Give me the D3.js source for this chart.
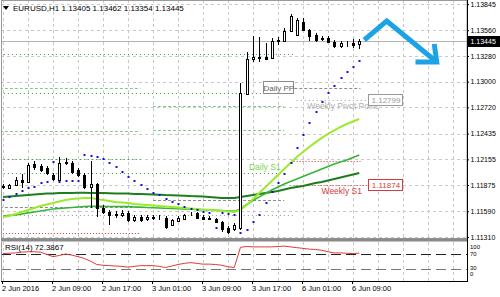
<!DOCTYPE html>
<html>
<head>
<meta charset="utf-8">
<script src="https://cdnjs.cloudflare.com/ajax/libs/d3/7.8.5/d3.min.js"></script>
<style>
  body { margin: 0; background: #fff; }
  svg { display: block; font-family: "Liberation Sans", Arial, sans-serif; }
</style>
</head>
<body>
<svg id="chart" width="500" height="297"></svg>
<script>
// EURUSD H1, 2-6 Jun 2016. One entry per hourly bar, bar 0 = 2 Jun 01:00.
var opens  = [1.11854,1.11844,1.11876,1.11931,1.11909,1.12105,1.12083,1.12061,1.11985,1.11931,
              1.12116,1.12116,1.12039,1.11985,1.11854,1.11887,1.11626,1.11582,1.11561,1.11550,
              1.11572,1.11495,1.11528,1.11506,1.11528,1.11517,1.11517,1.11441,1.11485,1.11506,
              1.11555,1.11572,1.11528,1.11512,1.11506,1.11474,1.11408,1.11398,1.11408,1.12866,
              1.13247,1.13269,1.13269,1.13258,1.13443,1.13443,1.13552,1.13508,1.13650,1.13563,
              1.13508,1.13470,1.13476,1.13432,1.13388,1.13415,1.13421,1.13405];
var highs  = [1.11887,1.11887,1.11963,1.11996,1.12116,1.12137,1.12105,1.12083,1.12007,1.12181,
              1.12170,1.12137,1.12061,1.12007,1.12137,1.11898,1.11659,1.11604,1.11593,1.11604,
              1.11593,1.11550,1.11550,1.11550,1.11550,1.11545,1.11539,1.11506,1.11539,1.11561,
              1.11582,1.11582,1.11550,1.11539,1.11517,1.11485,1.11430,1.11463,1.12986,1.13323,
              1.13497,1.13486,1.13421,1.13476,1.13486,1.13584,1.13737,1.13693,1.13693,1.13573,
              1.13530,1.13497,1.13497,1.13454,1.13443,1.13443,1.13465,1.13462];
var lows   = [1.11833,1.11833,1.11865,1.11844,1.11898,1.12039,1.12018,1.11985,1.11920,1.11920,
              1.12094,1.11996,1.11963,1.11833,1.11626,1.11528,1.11561,1.11441,1.11517,1.11528,
              1.11474,1.11474,1.11474,1.11485,1.11495,1.11490,1.11398,1.11430,1.11474,1.11495,
              1.11539,1.11506,1.11495,1.11490,1.11463,1.11365,1.11343,1.11376,1.11387,1.12855,
              1.13214,1.13214,1.13236,1.13247,1.13399,1.13432,1.13541,1.13497,1.13552,1.13443,
              1.13432,1.13443,1.13421,1.13367,1.13367,1.13378,1.13367,1.13354];
var closes = [1.11860,1.11876,1.11931,1.11909,1.12094,1.12072,1.12039,1.12007,1.11941,1.12116,
              1.12126,1.12018,1.11985,1.11854,1.11887,1.11626,1.11582,1.11550,1.11550,1.11572,
              1.11495,1.11528,1.11495,1.11528,1.11517,1.11521,1.11419,1.11495,1.11517,1.11550,
              1.11561,1.11517,1.11506,1.11506,1.11474,1.11398,1.11365,1.11441,1.12877,1.13247,
              1.13269,1.13258,1.13247,1.13443,1.13454,1.13552,1.13715,1.13671,1.13563,1.13497,
              1.13454,1.13476,1.13432,1.13388,1.13421,1.13410,1.13399,1.13445];

// three moving averages (fast light green, middle green, slow dark green)
var maFast = [1.11528,1.11539,1.11561,1.11582,1.11604,1.11626,1.11648,1.11664,1.11680,1.11697,
              1.11713,1.11724,1.11729,1.11735,1.11735,1.11724,1.11713,1.11702,1.11691,1.11686,
              1.11680,1.11669,1.11664,1.11658,1.11653,1.11648,1.11642,1.11637,1.11631,1.11626,
              1.11620,1.11615,1.11610,1.11604,1.11599,1.11593,1.11588,1.11582,1.11604,1.11658,
              1.11724,1.11789,1.11854,1.11920,1.11985,1.12050,1.12116,1.12181,1.12235,1.12290,
              1.12339,1.12388,1.12431,1.12469,1.12507,1.12540,1.12567,1.12594];
var maMid  = [1.11539,1.11545,1.11550,1.11561,1.11572,1.11582,1.11593,1.11604,1.11615,1.11620,
              1.11626,1.11631,1.11637,1.11642,1.11644,1.11645,1.11644,1.11642,1.11641,1.11640,
              1.11642,1.11637,1.11635,1.11631,1.11629,1.11626,1.11622,1.11620,1.11617,1.11615,
              1.11613,1.11610,1.11607,1.11604,1.11601,1.11599,1.11593,1.11591,1.11615,1.11664,
              1.11707,1.11746,1.11784,1.11822,1.11854,1.11887,1.11914,1.11941,1.11969,1.11996,
              1.12023,1.12050,1.12077,1.12105,1.12126,1.12148,1.12175,1.12203];
var maSlow = [1.11746,1.11751,1.11756,1.11762,1.11767,1.11773,1.11778,1.11784,1.11784,1.11789,
              1.11789,1.11790,1.11791,1.11791,1.11790,1.11789,1.11788,1.11786,1.11784,1.11783,
              1.11782,1.11778,1.11777,1.11776,1.11773,1.11771,1.11767,1.11765,1.11762,1.11760,
              1.11756,1.11754,1.11751,1.11746,1.11740,1.11735,1.11734,1.11735,1.11746,1.11756,
              1.11767,1.11778,1.11789,1.11800,1.11811,1.11827,1.11844,1.11854,1.11865,1.11882,
              1.11898,1.11909,1.11925,1.11941,1.11958,1.11974,1.11991,1.12007];

// parabolic SAR
var sarValues = [1.11713,1.11746,1.11778,1.11811,1.11844,1.11849,1.11898,1.11903,1.12126,1.11909,
                 1.11914,1.11920,1.11922,1.12203,1.12192,1.12181,1.12159,1.12116,1.12072,1.12018,
                 1.11963,1.11920,1.11876,1.11833,1.11789,1.11767,1.11724,1.11691,1.11669,1.11637,
                 1.11615,1.11604,1.11582,1.11572,1.11408,1.11572,1.11561,1.11550,1.11354,1.11387,
                 1.11474,1.11550,1.11680,1.11800,1.11898,1.11996,1.12116,1.12279,1.12420,1.12551,
                 1.12670,1.12779,1.12877,1.12953,1.13040,1.13106,1.13160,1.13225];

// RSI(14)
var rsiValues = [71,72,73,75,76,76,75,69,63,66,70,67,63,58,51,42,40,39,38,37,
                 35,37,39,39,39,37,34,38,42,45,47,45,43,43,42,40,36,34,88,90,
                 89,89,89,89,90,91,89,87,85,83,82,80,76,73,73,72,71,72.3867];

var priceTicks = [1.13845,1.13560,1.13280,1.13000,1.12720,1.12435,1.12155,1.11875,1.11590,1.11310];
var rsiTicks = [100,70,30,0];
var rsiLevels = [70,30];
var timeBars = [0,8,16,24,32,40,48,56];
var timeLabels = ["2 Jun 2016","2 Jun 09:00","2 Jun 17:00","3 Jun 01:00",
                  "3 Jun 09:00","3 Jun 17:00","6 Jun 01:00","6 Jun 09:00"];
var currentPrice = 1.13445;
var headerText = "EURUSD,H1  1.13405 1.13462 1.13354 1.13445";
var rsiText = "RSI(14) 72.3867";

// pivot levels: price, first bar, last bar, kind
var pivotPrices = [1.13301,1.12877,1.12159,1.12007,1.11550,
                   1.12932,1.12464,1.11637,1.11354,
                   1.12736,1.12475,1.11713,
                   1.12932,1.12137,1.12799,1.11874];
var pivotFrom   = [-0.5,-0.5,-0.5,-0.5,-0.5,
                   -0.5,-0.5,-0.5,-0.5,
                   24,24,24,
                   46.6,46.5,47,46.5];
var pivotTo     = [46.5,46.5,22,45.5,46.5,
                   22,22,22,22,
                   45,45,45,
                   57.2,57.2,58.4,58.4];
var pivotKinds  = ["greenDot","greenDot","greenDot","greenDot","grayDot",
                   "greenDash","greenDash","grayDash","redDot",
                   "greenDash","greenDash","grayDash",
                   "grayDash","redDot","grayDot","redDot"];

// hand drawn arrow (bar, price)
var arrowBars   = [57.8, 61.4, 69.4];
var arrowPrices = [1.13454, 1.13661, 1.13214];
var headBars    = [69.0, 69.4, 66.0];
var headPrices  = [1.13410, 1.13214, 1.13214];

var styles = {
  greenDot:  {stroke: "#2f9f2f", dash: "1,3"},
  greenDash: {stroke: "#7fd07f", dash: "3,2"},
  grayDot:   {stroke: "#999999", dash: "1,3"},
  grayDash:  {stroke: "#8c8c8c", dash: "3,2"},
  redDot:    {stroke: "#dd3333", dash: "1,2"}
};

var svg = d3.select("#chart");
var axisX = 467, mainBottom = 238, rsiTop = 242, rsiBottom = 281;

var x = d3.scaleLinear().domain([0, 74]).range([3, 3 + 6.25 * 74]);
var y = d3.scaleLinear().domain([1.11299, 1.13889]).range([mainBottom, 0]);
var ry = d3.scaleLinear().domain([0, 100]).range([280.25, 242.75]);

function px(v) { return Math.round(v) + 0.5; }

svg.append("defs").append("clipPath").attr("id", "mainClip")
  .append("rect").attr("x", 1).attr("y", 0).attr("width", axisX - 1).attr("height", mainBottom);
svg.select("defs").append("clipPath").attr("id", "rsiClip")
  .append("rect").attr("x", 1).attr("y", rsiTop).attr("width", axisX - 1).attr("height", rsiBottom - rsiTop);

// grid
var gridX = d3.range(0, 74, 4).filter(function(b) { return x(b) < axisX; });
var grid = svg.append("g").attr("stroke", "#c8c8c8").attr("stroke-dasharray", "3,3");
grid.selectAll(".vg").data(gridX).enter().append("line")
  .attr("x1", function(d) { return px(x(d)); }).attr("x2", function(d) { return px(x(d)); })
  .attr("y1", 0).attr("y2", mainBottom);
grid.selectAll(".vr").data(gridX).enter().append("line")
  .attr("x1", function(d) { return px(x(d)); }).attr("x2", function(d) { return px(x(d)); })
  .attr("y1", rsiTop).attr("y2", rsiBottom);
grid.selectAll(".hg").data(priceTicks).enter().append("line")
  .attr("x1", 1).attr("x2", axisX)
  .attr("y1", function(d) { return px(y(d)); }).attr("y2", function(d) { return px(y(d)); });

var main = svg.append("g").attr("clip-path", "url(#mainClip)");

// pivot lines
main.selectAll(".pivot").data(pivotPrices).enter().append("line")
  .attr("x1", function(d, i) { return x(pivotFrom[i]); })
  .attr("x2", function(d, i) { return x(pivotTo[i]); })
  .attr("y1", function(d) { return px(y(d)); })
  .attr("y2", function(d) { return px(y(d)); })
  .attr("stroke", function(d, i) { return styles[pivotKinds[i]].stroke; })
  .attr("stroke-dasharray", function(d, i) { return styles[pivotKinds[i]].dash; });

// current price line
main.append("line").attr("x1", 1).attr("x2", axisX)
  .attr("y1", px(y(currentPrice))).attr("y2", px(y(currentPrice)))
  .attr("stroke", "#b4b4b4");

// moving averages
var maLine = d3.line().x(function(d, i) { return x(i); }).y(function(d) { return y(d); });
[[maSlow, "#1e7d1e", 2], [maMid, "#36b536", 1.6], [maFast, "#9cea2e", 2]].forEach(function(m) {
  main.append("path").datum(m[0]).attr("d", maLine)
    .attr("fill", "none").attr("stroke", m[1]).attr("stroke-width", m[2]);
});

// candles
var bars = d3.range(opens.length);
var candle = main.selectAll(".candle").data(bars).enter().append("g");
candle.append("line")
  .attr("x1", function(i) { return px(x(i)); }).attr("x2", function(i) { return px(x(i)); })
  .attr("y1", function(i) { return Math.round(y(highs[i])); })
  .attr("y2", function(i) { return Math.round(y(lows[i])); })
  .attr("stroke", "#000");
candle.append("rect")
  .attr("x", function(i) { return Math.round(x(i)) - 0.5; })
  .attr("width", 2)
  .attr("y", function(i) { return Math.round(y(Math.max(opens[i], closes[i]))) + 0.5; })
  .attr("height", function(i) {
    return Math.max(0, Math.round(y(Math.min(opens[i], closes[i]))) - Math.round(y(Math.max(opens[i], closes[i]))));
  })
  .attr("fill", function(i) { return closes[i] >= opens[i] ? "#fff" : "#000"; })
  .attr("stroke", "#000");

// parabolic SAR dots
main.selectAll(".sar").data(sarValues).enter().append("rect")
  .attr("x", function(d, i) { return Math.round(x(i)) - 0.5; })
  .attr("y", function(d) { return Math.round(y(d)) - 1; })
  .attr("width", 2).attr("height", 2)
  .attr("fill", "#1010e0");

// labels on pivot lines
var ppY = y(pivotPrices[12]), ppX = x(pivotFrom[12]);
main.append("rect").attr("x", Math.round(ppX) - 30.5).attr("y", Math.round(ppY) - 6.5)
  .attr("width", 30).attr("height", 12).attr("fill", "#fff").attr("stroke", "#8c8c8c");
main.append("text").attr("x", ppX - 15.5).attr("y", ppY + 3.5).attr("text-anchor", "middle")
  .attr("font-size", 8).attr("fill", "#666").text("Daily PP");

var s1Y = y(pivotPrices[13]);
main.append("text").attr("x", x(pivotFrom[13]) - 13).attr("y", s1Y + 9).attr("text-anchor", "end")
  .attr("font-size", 8.5).attr("fill", "#7ed35a").text("Daily S1");

var wpY = y(pivotPrices[14]);
main.append("text").attr("x", x(pivotTo[14]) + 10).attr("y", wpY + 9).attr("text-anchor", "end")
  .attr("font-size", 8.5).attr("fill", "#b0b0b0").text("Weekly Pivot Point");
var ws1Y = y(pivotPrices[15]);
main.append("text").attr("x", x(pivotTo[15]) - 6).attr("y", ws1Y + 9).attr("text-anchor", "end")
  .attr("font-size", 8.5).attr("fill", "#d43c3c").text("Weekly S1");

[[14, "#999999"], [15, "#d43c3c"]].forEach(function(b) {
  var by = y(pivotPrices[b[0]]), bx = x(pivotTo[b[0]]);
  svg.append("rect").attr("x", Math.round(bx) + 0.5).attr("y", Math.round(by) - 5.5)
    .attr("width", 34).attr("height", 11).attr("fill", "#fff").attr("stroke", b[1]);
  svg.append("text").attr("x", bx + 18).attr("y", by + 3).attr("text-anchor", "middle")
    .attr("font-size", 8).attr("fill", b[1]).text(d3.format(".5f")(pivotPrices[b[0]]));
});

// arrow
var arrowLine = d3.line().x(function(d) { return x(d[0]); }).y(function(d) { return y(d[1]); });
svg.append("path").datum(d3.zip(arrowBars, arrowPrices)).attr("d", arrowLine)
  .attr("fill", "none").attr("stroke", "#1ba3e6").attr("stroke-width", 5);
svg.append("path").datum(d3.zip(headBars, headPrices)).attr("d", arrowLine)
  .attr("fill", "none").attr("stroke", "#1ba3e6").attr("stroke-width", 5);

// RSI pane
var rsi = svg.append("g").attr("clip-path", "url(#rsiClip)");
rsi.selectAll(".lvl").data(rsiLevels).enter().append("line")
  .attr("x1", 1).attr("x2", axisX)
  .attr("y1", function(d) { return px(ry(d)); }).attr("y2", function(d) { return px(ry(d)); })
  .attr("stroke", function(d) { return d === 70 ? "#222" : "#777"; })
  .attr("stroke-dasharray", "10,5");
rsi.append("path").datum(rsiValues)
  .attr("d", d3.line().x(function(d, i) { return x(i); }).y(function(d) { return ry(d); }))
  .attr("fill", "none").attr("stroke", "#e03a3a").attr("stroke-width", 1);

// frames
svg.append("rect").attr("x", 1.5).attr("y", 0.5).attr("width", axisX - 1.5).attr("height", mainBottom)
  .attr("fill", "none").attr("stroke", "#9a9a9a");
svg.append("rect").attr("x", 1).attr("y", mainBottom + 0.5).attr("width", axisX - 1).attr("height", 3)
  .attr("fill", "#8a8a8a");
svg.append("line").attr("x1", 1.5).attr("x2", 1.5).attr("y1", rsiTop).attr("y2", rsiBottom).attr("stroke", "#9a9a9a");

// price axis
var pAxis = svg.append("g").attr("transform", "translate(" + axisX + ",0)")
  .call(d3.axisRight(y).tickValues(priceTicks).tickSize(2).tickPadding(1.5).tickFormat(d3.format(".5f")));
pAxis.select(".domain").attr("d", "M0.5,0V" + rsiBottom).attr("stroke", "#000");
pAxis.selectAll("text").attr("font-size", 7).attr("font-family", "Liberation Sans, Arial, sans-serif");

// current price tag
svg.append("rect").attr("x", axisX + 1).attr("y", Math.round(y(currentPrice)) - 5)
  .attr("width", 500 - axisX).attr("height", 11).attr("fill", "#000");
svg.append("text").attr("x", axisX + 3.5).attr("y", y(currentPrice) + 3)
  .attr("font-size", 7).attr("fill", "#fff").text(d3.format(".5f")(currentPrice));

// RSI axis labels
var rsiLabelShift = {100: 6, 70: 1.5, 30: 0.5, 0: -4.5};
svg.selectAll(".rl").data(rsiTicks).enter().append("text")
  .attr("x", axisX + 3).attr("y", function(d) { return ry(d) + rsiLabelShift[d]; })
  .attr("font-size", 6).text(function(d) { return d; });

// time axis
var tAxis = svg.append("g").attr("transform", "translate(0," + rsiBottom + ")")
  .call(d3.axisBottom(x).tickValues(timeBars).tickSize(3).tickPadding(2)
    .tickFormat(function(d, i) { return timeLabels[i]; }));
tAxis.select(".domain").attr("d", "M1," + 0.5 + "H" + (axisX + 1)).attr("stroke", "#000");
tAxis.selectAll(".tick line").attr("transform", "translate(-1,0)");
tAxis.selectAll("text").attr("text-anchor", "start").attr("dx", -1.5)
  .attr("font-size", 7.5).attr("font-family", "Liberation Sans, Arial, sans-serif");

// header texts
svg.append("path").attr("d", "M3,6 L9,6 L6,10 Z").attr("fill", "#000");
svg.append("text").attr("x", 13).attr("y", 11).attr("font-size", 8).text(headerText);
svg.append("text").attr("x", 5).attr("y", 250).attr("font-size", 8).text(rsiText);
</script>
</body>
</html>
